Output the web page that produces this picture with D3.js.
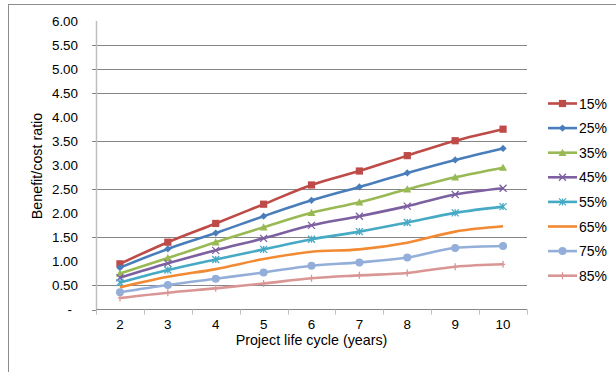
<!DOCTYPE html>
<html>
<head>
<meta charset="utf-8">
<script src="https://cdn.jsdelivr.net/npm/d3@7"></script>
<style>
  html, body { margin: 0; padding: 0; background: #fff; }
  svg { display: block; }
  text { font-family: "Liberation Sans", Arial, sans-serif; fill: #000; }
</style>
</head>
<body>
<div id="chart"></div>
<script>
const years = [2, 3, 4, 5, 6, 7, 8, 9, 10];
const seriesNames = ["15%", "25%", "35%", "45%", "55%", "65%", "75%", "85%"];
const s15 = [0.95, 1.40, 1.79, 2.19, 2.59, 2.88, 3.20, 3.51, 3.75];
const s25 = [0.87, 1.26, 1.59, 1.94, 2.27, 2.55, 2.84, 3.11, 3.35];
const s35 = [0.75, 1.07, 1.40, 1.71, 2.01, 2.23, 2.50, 2.75, 2.95];
const s45 = [0.66, 0.96, 1.23, 1.48, 1.75, 1.94, 2.15, 2.39, 2.52];
const s55 = [0.56, 0.82, 1.04, 1.25, 1.46, 1.62, 1.81, 2.01, 2.14];
const s65 = [0.46, 0.68, 0.84, 1.05, 1.20, 1.25, 1.39, 1.62, 1.73];
const s75 = [0.36, 0.51, 0.64, 0.77, 0.91, 0.98, 1.08, 1.28, 1.32];
const s85 = [0.24, 0.35, 0.44, 0.54, 0.65, 0.71, 0.76, 0.89, 0.94];
const yTicks = [0, 0.5, 1, 1.5, 2, 2.5, 3, 3.5, 4, 4.5, 5, 5.5, 6];
const gridValues = [0.5, 1.5, 2.5, 3.5, 4.5, 5, 5.5];
const colors = ["#BE4B48", "#4A7EBB", "#98B954", "#7D60A0", "#46AAC5", "#F28A33", "#93AFD9", "#D99694"];
const markers = ["square", "diamond", "triangle", "x", "asterisk", "none", "circle", "plus"];
const allSeries = [s15, s25, s35, s45, s55, s65, s75, s85];

const W = 616, H = 372;
const svg = d3.select("#chart").append("svg").attr("width", W).attr("height", H);

// outer chart border (only left & top visible in frame)
svg.append("rect").attr("x", 8.5).attr("y", 4.5).attr("width", 640).attr("height", 400)
  .attr("fill", "none").attr("stroke", "#8c8c8c").attr("stroke-width", 1);

const plotL = 96, plotR = 527, plotT = 21, plotB = 309.5;
const x = d3.scaleBand().domain(years).range([plotL, plotR]);
const y = d3.scaleLinear().domain([0, 6]).range([plotB, plotT]);
const cx = d => x(d) + x.bandwidth() / 2;
const tickFont = 13.4, titleFont = 14.3, legendFont = 14;

// gridlines
svg.append("g").selectAll("line").data(gridValues).join("line")
  .attr("x1", plotL).attr("x2", plotR)
  .attr("y1", d => Math.round(y(d)) + 0.5).attr("y2", d => Math.round(y(d)) + 0.5)
  .attr("stroke", "#868686").attr("stroke-width", 1);

// y axis
const yAxis = d3.axisLeft(y).tickValues(yTicks).tickSize(0).tickPadding(0)
  .tickFormat(d => d === 0 ? "-" : d3.format(".2f")(d));
const gy = svg.append("g").attr("transform", `translate(${plotL},0)`).call(yAxis);
gy.select(".domain").remove();
gy.selectAll("text").attr("x", -18).attr("font-size", tickFont).attr("text-anchor", "end")
  .attr("font-family", "Liberation Sans, Arial, sans-serif").attr("fill", "#000");
gy.selectAll("text").filter(d => d === 0).attr("x", -24);
svg.append("line").attr("x1", plotL + 0.5).attr("x2", plotL + 0.5).attr("y1", plotT).attr("y2", plotB)
  .attr("stroke", "#bfbfbf").attr("stroke-width", 1.5);
svg.append("g").selectAll("line").data(gridValues.concat([0])).join("line")
  .attr("x1", plotL - 4).attr("x2", plotL)
  .attr("y1", d => Math.round(y(d)) + 0.5).attr("y2", d => Math.round(y(d)) + 0.5)
  .attr("stroke", "#868686");

// x axis
const xAxis = d3.axisBottom(x).tickSize(0).tickPadding(0);
const gx = svg.append("g").attr("transform", `translate(0,${plotB})`).call(xAxis);
gx.select(".domain").remove();
gx.selectAll("text").attr("y", 10).attr("font-size", tickFont)
  .attr("font-family", "Liberation Sans, Arial, sans-serif").attr("fill", "#000");
svg.append("line").attr("x1", plotL).attr("x2", plotR).attr("y1", plotB).attr("y2", plotB)
  .attr("stroke", "#868686").attr("stroke-width", 1);
const xBounds = years.map(d => x(d)).concat([plotR]);
svg.append("g").selectAll("line").data(xBounds).join("line")
  .attr("x1", d => Math.round(d) + 0.5).attr("x2", d => Math.round(d) + 0.5)
  .attr("y1", plotB).attr("y2", plotB + 5).attr("stroke", "#bfbfbf").attr("stroke-width", 1);

// axis titles
svg.append("text").attr("x", 311.5).attr("y", 345).attr("text-anchor", "middle")
  .attr("font-size", titleFont).text("Project life cycle (years)");
svg.append("text").attr("transform", "translate(41.5,166) rotate(-90)").attr("text-anchor", "middle")
  .attr("font-size", titleFont).text("Benefit/cost ratio");

function drawMarker(g, type, color, size) {
  const s = size;
  if (type === "square") g.append("rect").attr("x", -s).attr("y", -s).attr("width", 2 * s).attr("height", 2 * s).attr("fill", color);
  else if (type === "diamond") g.append("path").attr("d", `M0,${-s}L${s},0L0,${s}L${-s},0Z`).attr("fill", color);
  else if (type === "triangle") g.append("path").attr("d", `M0,${-s}L${s},${s * 0.8}L${-s},${s * 0.8}Z`).attr("fill", color);
  else if (type === "circle") g.append("circle").attr("r", s).attr("fill", color);
  else if (type === "x") g.append("path").attr("d", `M${-s},${-s}L${s},${s}M${-s},${s}L${s},${-s}`).attr("stroke", color).attr("stroke-width", 1.3);
  else if (type === "asterisk") g.append("path").attr("d", `M${-s},${-s}L${s},${s}M${-s},${s}L${s},${-s}M0,${-s}L0,${s}`).attr("stroke", color).attr("stroke-width", 1.3);
  else if (type === "plus") g.append("path").attr("d", `M0,${-s}L0,${s}M${-s * 0.6},0L${s * 0.6},0`).attr("stroke", color).attr("stroke-width", 1.3);
}
const mSize = { square: 3.6, diamond: 3.6, triangle: 4, circle: 4, x: 3.5, asterisk: 3.5, plus: 3.5 };

const line = d3.line().x((d, i) => cx(years[i])).y(d => y(d)).curve(d3.curveMonotoneX);
allSeries.forEach((vals, si) => {
  const g = svg.append("g");
  g.append("path").attr("d", line(vals)).attr("fill", "none")
    .attr("stroke", colors[si]).attr("stroke-width", 2.6).attr("stroke-linejoin", "round");
  if (markers[si] !== "none") {
    vals.forEach((v, i) => {
      const mg = g.append("g").attr("transform", `translate(${cx(years[i])},${y(v)})`);
      drawMarker(mg, markers[si], colors[si], mSize[markers[si]]);
    });
  }
});

// legend
const lg = svg.append("g");
seriesNames.forEach((name, i) => {
  const ly = 103.5 + i * 24.6;
  const g = lg.append("g");
  g.append("line").attr("x1", 548).attr("x2", 577).attr("y1", ly).attr("y2", ly)
    .attr("stroke", colors[i]).attr("stroke-width", 2.6);
  if (markers[i] !== "none") {
    const mg = g.append("g").attr("transform", `translate(562.5,${ly})`);
    drawMarker(mg, markers[i], colors[i], mSize[markers[i]]);
  }
  g.append("text").attr("x", 579).attr("y", ly + 5).attr("font-size", legendFont).text(name);
});
</script>
</body>
</html>
